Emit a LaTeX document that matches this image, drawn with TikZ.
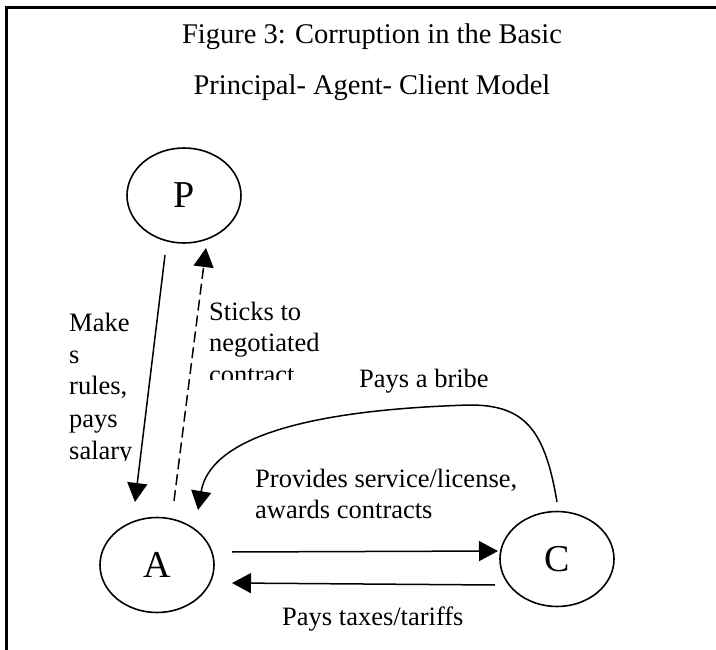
\documentclass[tikz,border=0pt]{standalone}
\usepackage{fontspec}
\setmainfont{Liberation Serif}
\usetikzlibrary{shapes.geometric,arrows.meta}
\begin{document}
\begin{tikzpicture}[x=1pt,y=-1pt,
  actor/.style={draw,ellipse,line width=1.6pt,minimum width=114pt,minimum height=95pt,inner sep=0pt,font=\fontsize{38}{40}\selectfont},
  lbl/.style={anchor=base west,inner sep=0pt,font=\fontsize{26.5}{32}\selectfont},
  ttl/.style={anchor=base,inner sep=0pt,font=\fontsize{28.5}{34}\selectfont},
  conn/.style={line width=1.5pt,-{Triangle[length=19pt,width=20pt]}},
  dconn/.style={conn,dash pattern=on 11pt off 5pt},
]
\useasboundingbox (0,0) rectangle (716,650);
\draw[line width=3pt] (716,7.5) -- (6.5,7.5) -- (6.5,650);

\node[ttl] (t1) at (372,44) {Figure 3: Corruption in the Basic};
\node[ttl] (t2) at (372,95) {Principal-\hspace{7pt}Agent-\hspace{7pt}Client Model};

\node[actor] (P) at (184,195.5) {P};
\node[actor] (A) at (157,565) {A};
\node[actor] (C) at (557,559) {C};

% endpoints
\coordinate (mkS) at (165,255);
\coordinate (mkE) at (135,502);
\coordinate (stS) at (174,501);
\coordinate (stE) at (206,248);
\coordinate (acS) at (232,552);
\coordinate (acE) at (498,551);
\coordinate (caS) at (495,585);
\coordinate (caE) at (232,583);
\coordinate (brS) at (557,502);
\coordinate (brM) at (470,405);
\coordinate (brE) at (198,510);

\draw[conn] (mkS) -- (mkE);
\draw[dconn] (stS) -- (stE);
\draw[conn] (acS) -- (acE);
\draw[conn] (caS) -- (caE);
\draw[conn] (brS) .. controls (545,430) and (525,405) .. (brM)
   .. controls (300,410) and (210,440) .. (brE);

\begin{scope}
\clip (60,290) rectangle (160,460);
\node[lbl] (l1) at (69,331) {Make};
\node[lbl] (l2) at (69,363) {s};
\node[lbl] (l3) at (69,395) {rules,};
\node[lbl] (l4) at (69,427) {pays};
\node[lbl] (l5) at (69,459) {salary};
\end{scope}

\begin{scope}
\clip (200,290) rectangle (360,379);
\node[lbl] (s1) at (209,320) {Sticks to};
\node[lbl] (s2) at (209,352) {negotiated};
\node[lbl] (s3) at (209,384) {contract};
\end{scope}

\node[lbl] (bribe) at (359,388) {Pays a bribe};
\node[lbl] (pv1) at (255,487) {Provides service/license,};
\node[lbl] (pv2) at (255,518) {awards contracts};
\node[lbl] (tax) at (282,625) {Pays taxes/tariffs};
\end{tikzpicture}
\end{document}
